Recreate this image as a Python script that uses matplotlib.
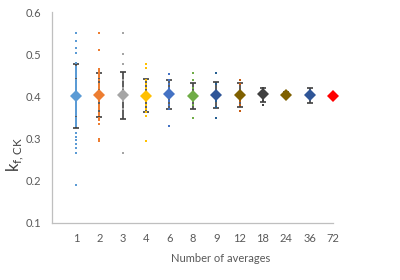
import numpy as np
import matplotlib.pyplot as plt

plt.rcParams["font.family"] = ["Lato", "DejaVu Sans"]

labels = ["1", "2", "3", "4", "6", "8", "9", "12", "18", "24", "36", "72"]

pts_1 = [0.551, 0.531, 0.515, 0.504, 0.48, 0.47, 0.465, 0.46, 0.455, 0.45, 0.445, 0.44, 0.435,
         0.43, 0.425, 0.42, 0.415, 0.41, 0.405, 0.40, 0.395, 0.39, 0.385, 0.38, 0.375, 0.37,
         0.365, 0.36, 0.355, 0.35, 0.345, 0.34, 0.335, 0.33, 0.313, 0.303, 0.296, 0.287,
         0.278, 0.265, 0.189]
pts_2 = [0.551, 0.51, 0.465, 0.46, 0.455, 0.45, 0.445, 0.44, 0.43, 0.425, 0.42, 0.41, 0.405,
         0.40, 0.395, 0.39, 0.38, 0.375, 0.37, 0.36, 0.355, 0.35, 0.345, 0.335, 0.30, 0.295]
pts_3 = [0.551, 0.50, 0.476, 0.44, 0.42, 0.41, 0.40, 0.39, 0.37, 0.265]
pts_4 = [0.476, 0.468, 0.44, 0.43, 0.42, 0.41, 0.40, 0.39, 0.38, 0.37, 0.362, 0.354, 0.294]
pts_6 = [0.452, 0.44, 0.43, 0.42, 0.41, 0.40, 0.39, 0.38, 0.369, 0.33]
pts_8 = [0.455, 0.44, 0.42, 0.41, 0.40, 0.39, 0.38, 0.35]
pts_9 = [0.455, 0.43, 0.41, 0.39, 0.375, 0.35]
pts_12 = [0.44, 0.43, 0.41, 0.39, 0.38, 0.365]
pts_18 = [0.42, 0.39, 0.38]
pts_24 = [0.41, 0.40]
pts_36 = [0.41, 0.395]
pts_72 = [0.401]
points = [pts_1, pts_2, pts_3, pts_4, pts_6, pts_8, pts_9, pts_12, pts_18, pts_24, pts_36, pts_72]

means = [0.401, 0.403, 0.403, 0.402, 0.405, 0.402, 0.403, 0.403, 0.405, 0.404, 0.403, 0.401]
err_lo = [0.324, 0.352, 0.347, 0.362, 0.369, 0.369, 0.372, 0.376, 0.387, 0.398, 0.385, 0.401]
err_hi = [0.476, 0.455, 0.459, 0.442, 0.439, 0.431, 0.433, 0.431, 0.421, 0.410, 0.421, 0.401]

pt_colors = ["#5B9BD5", "#ED7D31", "#A5A5A5", "#FFC000", "#4472C4", "#70AD47",
             "#255E91", "#C55A11", "#404040", "#7F6000", "#2F5597", "#FF0000"]
mean_colors = ["#5B9BD5", "#ED7D31", "#A5A5A5", "#FFC000", "#4472C4", "#70AD47",
               "#2F5597", "#7F6000", "#404040", "#7F6000", "#2F5597", "#FF0000"]

fig = plt.figure(figsize=(4, 2.8), dpi=100)
ax = fig.add_axes([0.13, 0.2036, 0.7025, 0.7534])

x = np.arange(len(labels))
for i in range(len(labels)):
    lo = means[i] - err_lo[i]
    hi = err_hi[i] - means[i]
    if hi > 0.001:
        ax.errorbar(x[i], means[i], yerr=[[lo], [hi]], fmt="none", ecolor="#404040",
                    elinewidth=1.2, capsize=2.4, capthick=1.2, zorder=2)
    ax.plot([x[i]] * len(points[i]), points[i], "s", color=pt_colors[i],
            markersize=2.1, markeredgewidth=0, zorder=3, clip_on=False)
    ax.plot(x[i], means[i], "D", color=mean_colors[i], markersize=5.8,
            markeredgewidth=0, zorder=4, clip_on=False)

ax.set_xlim(-1.03, 11)
ax.set_ylim(0.1, 0.6)
ax.set_yticks([0.1, 0.2, 0.3, 0.4, 0.5, 0.6])
ax.set_xticks(x)
ax.set_xticklabels(labels)
ax.tick_params(length=0, labelsize=8, colors="#595959")
ax.tick_params(axis="x", pad=7)
ax.tick_params(axis="y", pad=8)
for s in ["top", "right"]:
    ax.spines[s].set_visible(False)
for s in ["left", "bottom"]:
    ax.spines[s].set_color("#BFBFBF")
    ax.spines[s].set_linewidth(0.9)

fig.text(0.038, 0.45, r"k$_{\mathregular{f,CK}}$", rotation=90, fontsize=12,
         color="#404040", ha="center", va="center")
fig.text(221 / 400, 1 - 258 / 280, "Number of averages", fontsize=8,
         color="#595959", ha="center", va="center")

fig.savefig("out.png", dpi=100)
